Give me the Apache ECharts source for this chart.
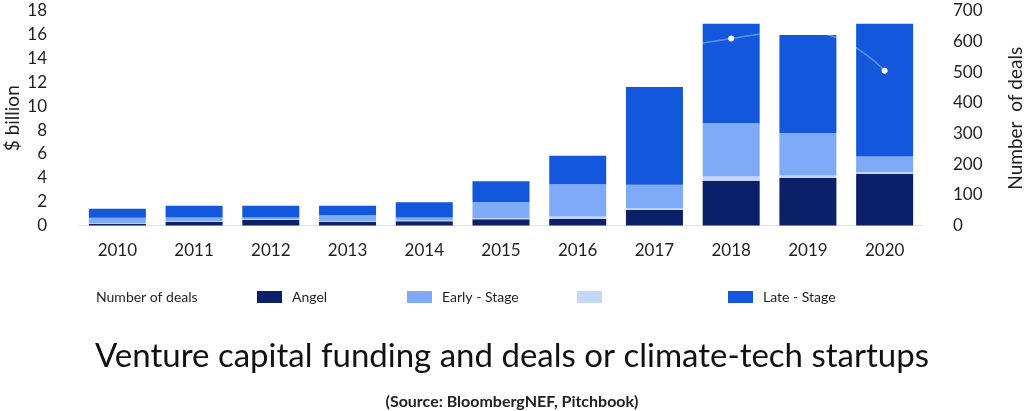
<!DOCTYPE html>
<html>
<head>
<meta charset="utf-8">
<script src="https://cdn.jsdelivr.net/npm/echarts@6/dist/echarts.min.js"></script>
<style>
  html, body { margin: 0; padding: 0; background: #fff; }
  #chart { width: 1024px; height: 411px; }
</style>
</head>
<body>
<div id="chart"></div>
<script>
var years = ['2010', '2011', '2012', '2013', '2014', '2015', '2016', '2017', '2018', '2019', '2020'];

// $ billion, stacked bottom to top
var angel = [0.15, 0.3, 0.47, 0.3, 0.35, 0.52, 0.55, 1.3, 3.75, 3.98, 4.32];
var seed = [0.05, 0.05, 0.05, 0.05, 0.08, 0.08, 0.2, 0.15, 0.36, 0.22, 0.17];
var earlyStage = [0.45, 0.33, 0.16, 0.5, 0.25, 1.38, 2.72, 1.96, 4.49, 3.56, 1.31];
var lateStage = [0.75, 0.98, 0.98, 0.8, 1.27, 1.74, 2.38, 8.22, 8.33, 8.22, 11.14];

// number of deals (right axis)
var deals = [330, 360, 340, 330, 350, 390, 460, 555, 610, 632, 505];

var fontName = 'Lato';
var textColor = '#1f1f1f';

var myChart = echarts.init(document.getElementById('chart'));

function legendAt(name, left, hideIcon) {
    return {
        data: [name],
        left: left,
        top: 285,
        itemWidth: 25,
        itemHeight: 12,
        icon: 'rect',
        itemStyle: hideIcon ? { opacity: 0 } : {},
        textStyle: {
            fontFamily: fontName,
            fontSize: 14,
            color: textColor,
            padding: [0, 0, 0, 5]
        },
        selectedMode: false
    };
}

var option = {
    backgroundColor: '#fff',
    animation: false,
    title: [{
        text: 'Venture capital funding and deals or climate-tech startups',
        left: 'center',
        top: 335,
        textStyle: {
            fontFamily: fontName,
            fontSize: 33,
            fontWeight: 'normal',
            color: '#111'
        }
    }, {
        text: '(Source: BloombergNEF, Pitchbook)',
        left: 'center',
        top: 389,
        textStyle: {
            fontFamily: fontName,
            fontSize: 16,
            fontWeight: 'bold',
            color: '#222'
        }
    }],
    legend: [
        legendAt('Number of deals', 56, true),
        legendAt('Angel', 252),
        legendAt('Early - Stage', 402),
        legendAt(' ', 572),
        legendAt('Late - Stage', 723)
    ],
    grid: {
        left: 79,
        right: 101,
        top: 11,
        bottom: 185.5,
        outerBoundsMode: 'none'
    },
    xAxis: {
        type: 'category',
        data: years,
        axisLine: { lineStyle: { color: '#e4e1da', width: 1 } },
        axisTick: { show: false },
        axisLabel: {
            fontFamily: fontName,
            fontSize: 17,
            color: textColor,
            margin: 17
        }
    },
    yAxis: [{
        type: 'value',
        min: 0,
        max: 18,
        interval: 2,
        name: '$ billion',
        nameLocation: 'middle',
        nameRotate: 90,
        nameGap: 57,
        nameMoveOverlap: false,
        nameTextStyle: { fontFamily: fontName, fontSize: 19, color: textColor },
        axisLine: { show: false },
        axisTick: { show: false },
        splitLine: { show: false },
        axisLabel: {
            fontFamily: fontName,
            fontSize: 17,
            color: textColor,
            margin: 32
        }
    }, {
        type: 'value',
        min: 0,
        max: 700,
        interval: 100,
        name: 'Number  of deals',
        nameLocation: 'middle',
        nameRotate: 90,
        nameGap: 83,
        nameMoveOverlap: false,
        nameTextStyle: { fontFamily: fontName, fontSize: 19, color: textColor },
        axisLine: { show: false },
        axisTick: { show: false },
        splitLine: { show: false },
        axisLabel: {
            fontFamily: fontName,
            fontSize: 17,
            color: textColor,
            margin: 30
        }
    }],
    series: [{
        name: 'Angel',
        type: 'bar',
        stack: 'funding',
        barWidth: 57,
        itemStyle: { color: '#0c1f69' },
        data: angel
    }, {
        name: ' ',
        type: 'bar',
        stack: 'funding',
        itemStyle: { color: '#c6d6f6' },
        data: seed
    }, {
        name: 'Early - Stage',
        type: 'bar',
        stack: 'funding',
        itemStyle: { color: '#7eaaf7' },
        data: earlyStage
    }, {
        name: 'Late - Stage',
        type: 'bar',
        stack: 'funding',
        itemStyle: { color: '#1257dc' },
        data: lateStage
    }, {
        name: 'Number of deals',
        type: 'line',
        yAxisIndex: 1,
        smooth: true,
        z: 10,
        symbol: 'circle',
        symbolSize: 6,
        lineStyle: { color: 'rgba(255,255,255,0.35)', width: 1.5 },
        itemStyle: { color: '#ffffff' },
        data: deals
    }]
};
myChart.setOption(option);
</script>
</body>
</html>
